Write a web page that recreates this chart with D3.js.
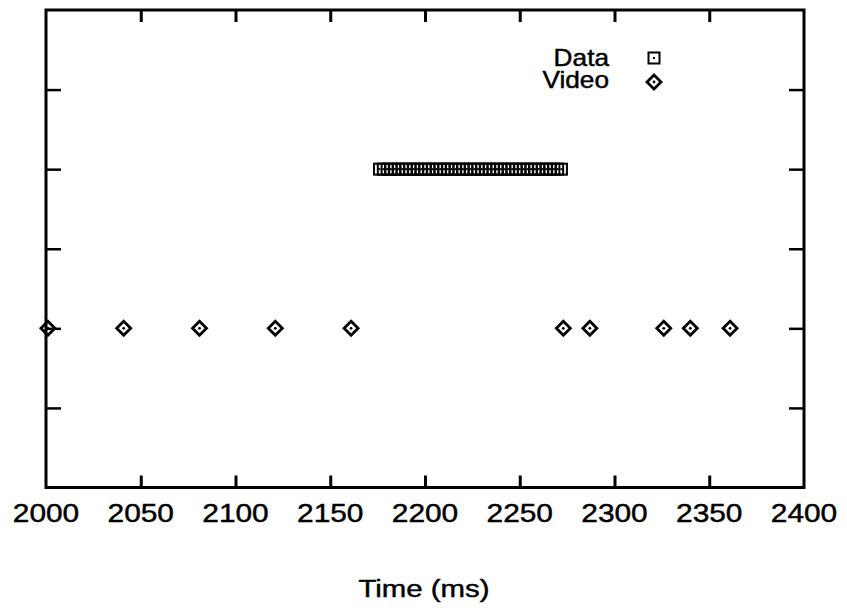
<!DOCTYPE html>
<html>
<head>
<meta charset="utf-8">
<script src="https://cdn.jsdelivr.net/npm/d3@7"></script>
<style>
  html, body { margin: 0; padding: 0; background: #fff; }
  svg { display: block; }
  text { font-family: "Liberation Sans", Arial, Helvetica, sans-serif; fill: #000; stroke: #000; stroke-width: 0.45px; }
</style>
</head>
<body>
<svg id="chart" width="847" height="608"></svg>
<script>
// Packet arrival times (ms) for each stream
const dataTimes = [2176, 2178, 2180, 2182, 2184, 2186, 2188, 2190, 2192, 2194,
                   2196, 2198, 2200, 2202, 2204, 2206, 2208, 2210, 2212, 2214,
                   2216, 2218, 2220, 2222, 2224, 2226, 2228, 2230, 2232, 2234,
                   2236, 2238, 2240, 2242, 2244, 2246, 2248, 2250, 2252, 2254,
                   2256, 2258, 2260, 2262, 2264, 2266, 2268, 2270, 2272];
const videoTimes = [2001, 2041, 2081, 2121, 2161, 2273, 2287, 2326, 2340, 2361];
// Row each stream is plotted on
const dataLevel = 4;
const videoLevel = 2;
const seriesNames = ["Data", "Video"];

const xTickValues = [2000, 2050, 2100, 2150, 2200, 2250, 2300, 2350, 2400];
const yTickValues = [1, 2, 3, 4, 5];
const xTitle = "Time (ms)";

const svg = d3.select("#chart");
const plotL = 46, plotR = 804, plotT = 10, plotB = 487.5;

const x = d3.scaleLinear().domain([2000, 2400]).range([plotL, plotR]);
const y = d3.scaleLinear().domain([0, 6]).range([plotB, plotT]);

// Axes: ticks pointing inward on all four sides
const inner = xTickValues.slice(1, -1);
svg.append("g").attr("transform", `translate(0,${plotB})`)
  .call(d3.axisBottom(x).tickValues(inner).tickSizeInner(-12).tickSizeOuter(0).tickFormat(""))
  .call(g => g.select(".domain").remove())
  .call(g => g.selectAll("line").attr("stroke", "#000").attr("stroke-width", 3));
svg.append("g").attr("transform", `translate(0,${plotT})`)
  .call(d3.axisTop(x).tickValues(inner).tickSizeInner(-12).tickSizeOuter(0).tickFormat(""))
  .call(g => g.select(".domain").remove())
  .call(g => g.selectAll("line").attr("stroke", "#000").attr("stroke-width", 3));
svg.append("g").attr("transform", `translate(${plotL},0)`)
  .call(d3.axisLeft(y).tickValues(yTickValues).tickSizeInner(-15).tickSizeOuter(0).tickFormat(""))
  .call(g => g.select(".domain").remove())
  .call(g => g.selectAll("line").attr("stroke", "#000").attr("stroke-width", 2.5));
svg.append("g").attr("transform", `translate(${plotR},0)`)
  .call(d3.axisRight(y).tickValues(yTickValues).tickSizeInner(-15).tickSizeOuter(0).tickFormat(""))
  .call(g => g.select(".domain").remove())
  .call(g => g.selectAll("line").attr("stroke", "#000").attr("stroke-width", 2.5));

// Plot frame
svg.append("rect")
  .attr("x", plotL).attr("y", plotT)
  .attr("width", plotR - plotL).attr("height", plotB - plotT)
  .attr("fill", "none").attr("stroke", "#000").attr("stroke-width", 3);

// Horizontally widened text helper
function label(g, str, px, py, size, sx, anchor) {
  return g.append("text")
    .attr("transform", `translate(${px},${py}) scale(${sx},1)`)
    .attr("font-size", size)
    .attr("text-anchor", anchor)
    .text(str);
}

// X tick labels
const tl = svg.append("g");
xTickValues.forEach(v => label(tl, String(v), x(v), 522, 26, 1.15, "middle"));

// X axis title
label(svg, xTitle, (plotL + plotR) / 2 - 1, 597, 24.5, 1.2, "middle");

// Markers
const sq = 11;
function square(g, cx, cy) {
  g.append("rect")
    .attr("x", cx - sq / 2).attr("y", cy - sq / 2)
    .attr("width", sq).attr("height", sq)
    .attr("fill", "none").attr("stroke", "#000").attr("stroke-width", 2);
  g.append("rect")
    .attr("x", cx - 1).attr("y", cy - 1).attr("width", 2).attr("height", 2)
    .attr("fill", "#000");
}
const dr = 7;
function diamond(g, cx, cy) {
  g.append("path")
    .attr("d", `M${cx},${cy - dr}L${cx + dr},${cy}L${cx},${cy + dr}L${cx - dr},${cy}Z`)
    .attr("fill", "none").attr("stroke", "#000").attr("stroke-width", 2.8);
  g.append("circle").attr("cx", cx).attr("cy", cy).attr("r", 1.4).attr("fill", "#000");
}

const dataG = svg.append("g");
dataTimes.forEach(t => square(dataG, x(t), y(dataLevel)));
const videoG = svg.append("g");
videoTimes.forEach(t => diamond(videoG, x(t), y(videoLevel)));

// Legend
const lg = svg.append("g");
label(lg, seriesNames[0], 609, 66, 23, 1.14, "end");
label(lg, seriesNames[1], 609, 88, 23, 1.14, "end");
square(lg, 654, 58);
diamond(lg, 654, 82);
</script>
</body>
</html>
